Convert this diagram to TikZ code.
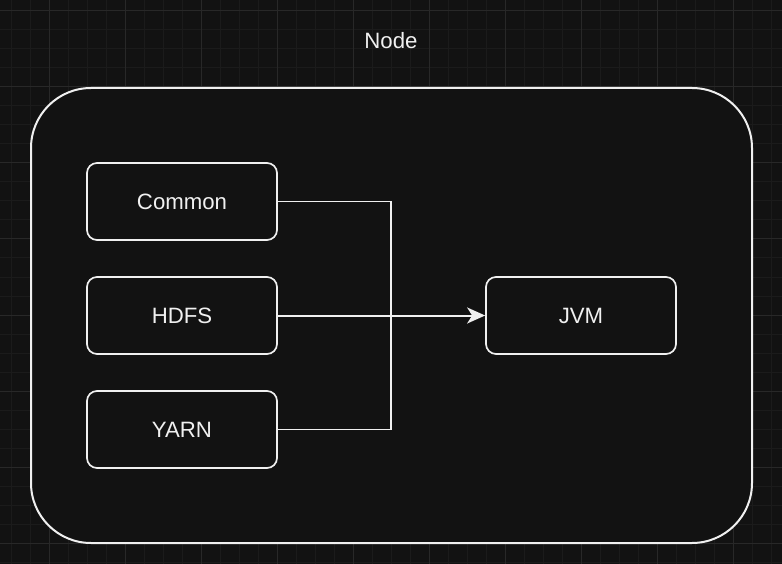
\documentclass[tikz,border=0pt]{standalone}
\usepackage{fontspec}
\setmainfont{Liberation Sans}
\usetikzlibrary{arrows.meta}
\definecolor{bg}{HTML}{121212}
\definecolor{gridminor}{HTML}{1B1B1B}
\definecolor{gridmajor}{HTML}{282828}
\definecolor{fg}{HTML}{F0F0F0}
\begin{document}
\begin{tikzpicture}[x=1pt,y=-1pt,
  box/.style={draw=fg,line width=1.7pt,rounded corners=10pt,minimum width=190pt,minimum height=77pt,inner sep=0pt,text=fg,font=\fontsize{22.2}{26}\selectfont},
  conn/.style={draw=fg,line width=1.5pt},
  lbl/.style={text=fg,font=\fontsize{22.2}{26}\selectfont}]
\useasboundingbox (0,0) rectangle (782,564);
\fill[bg] (0,0) rectangle (782,564);
% grid
\foreach \i in {0,...,41} {
  \pgfmathsetmacro{\xx}{11+19*\i}
  \draw[gridminor,line width=1pt] (\xx,0) -- (\xx,564);
}
\foreach \i in {0,...,29} {
  \pgfmathsetmacro{\yy}{11+19*\i}
  \draw[gridminor,line width=1pt] (0,\yy) -- (782,\yy);
}
\foreach \i in {0,...,9} {
  \pgfmathsetmacro{\xx}{49+76*\i}
  \draw[gridmajor,line width=1pt] (\xx,0) -- (\xx,564);
}
\foreach \i in {0,...,7} {
  \pgfmathsetmacro{\yy}{11+76*\i}
  \draw[gridmajor,line width=1pt] (0,\yy) -- (782,\yy);
}
% outer container
\draw[fg,line width=2pt,fill=bg,rounded corners=60pt] (31,88) rectangle (752,543);
\node[lbl] (title) at (391,41) {Node};
% boxes
\node[box] (common) at (182,201.5) {Common};
\node[box] (hdfs) at (182,315.5) {HDFS};
\node[box] (yarn) at (182,429.5) {YARN};
\node[box] (jvm) at (581,315.5) {JVM};
\coordinate (j) at (391,315.5);
\draw[conn] (common.east) -| (j);
\draw[conn] (yarn.east) -| (j);
\draw[conn,line width=2pt,-{Stealth[length=18pt,width=16pt,inset=5pt]}] (hdfs.east) -- (jvm.west);
\end{tikzpicture}
\end{document}
